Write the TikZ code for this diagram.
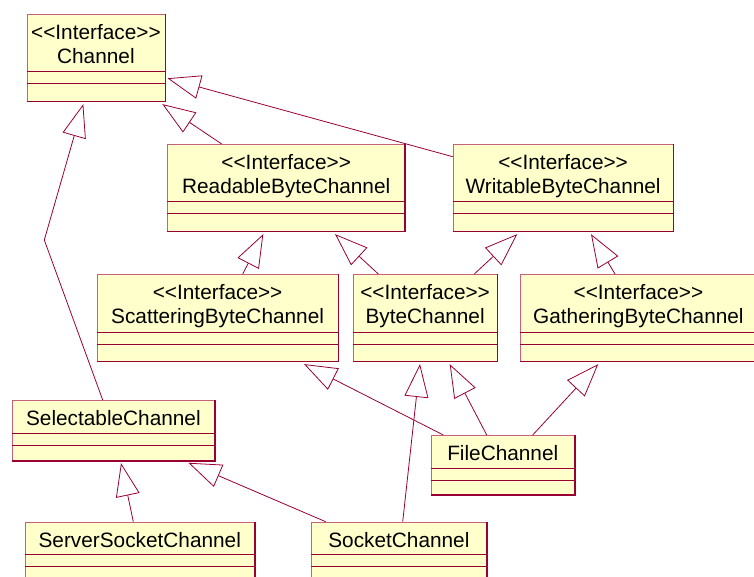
\documentclass[tikz,border=0pt]{standalone}
\usepackage{fontspec}
\newfontfamily\umlfont{Liberation Sans}
\usetikzlibrary{arrows.meta}
\definecolor{umlfill}{HTML}{FFFFCC}
\definecolor{umlline}{HTML}{990033}
\definecolor{umledge}{HTML}{C8607E}

% class box: name, x, y, width, first compartment, height
\newcommand{\umlbox}[6]{%
  \node[classbox, minimum width=#4pt, minimum height=#6pt] (#1) at (#2,#3) {};
  \draw[umlline] ([yshift=-#5pt]#1.north west) -- ([yshift=-#5pt]#1.north east);
  \draw[umlline] ([yshift=-#5pt-12pt]#1.north west) -- ([yshift=-#5pt-12pt]#1.north east);
  \draw[umlline, line width=1.6pt] (#1.north east) -- (#1.south east) -- (#1.south west);
}

\begin{document}
\begin{tikzpicture}[x=1pt, y=-1pt,
    classbox/.style={anchor=north west, fill=umlfill, draw=umledge, line width=0.8pt, inner sep=0pt},
    title/.style={anchor=base, inner sep=0pt, font=\umlfont\fontsize{20.8}{24}\selectfont},
    inh/.style={draw=umlline, line width=0.8pt, -{Triangle[open, length=33pt, width=24pt]}}]
  \useasboundingbox (0,0) rectangle (754,577);
  \clip (0,0) rectangle (754,577);

  % interfaces
  \umlbox{channel}{26.5}{14}{138}{57.7}{86.7}
  \umlbox{readable}{167.3}{144}{237}{57.7}{86.7}
  \umlbox{writable}{452.7}{144}{220}{57.7}{86.7}
  \umlbox{scattering}{96.7}{274}{241}{57.7}{86.7}
  \umlbox{bytech}{352.7}{274}{144}{57.7}{86.7}
  \umlbox{gathering}{520}{274}{236}{57.7}{86.7}
  % classes
  \umlbox{selectable}{12}{400}{202}{32.7}{60.3}
  \umlbox{filech}{430.7}{435}{143.3}{32.7}{59.3}
  \umlbox{serversocket}{24.7}{521.7}{229.3}{32.7}{60.3}
  \umlbox{socket}{311}{521.7}{175}{32.7}{60.3}

  \node[title] (channel-st) at ([yshift=-25.3pt]channel.north) {<<Interface>>};
  \node[title] (channel-nm) at ([yshift=-49.3pt]channel.north) {Channel};
  \node[title] (readable-st) at ([yshift=-25.3pt]readable.north) {<<Interface>>};
  \node[title] (readable-nm) at ([yshift=-49.3pt]readable.north) {ReadableByteChannel};
  \node[title] (writable-st) at ([yshift=-25.3pt]writable.north) {<<Interface>>};
  \node[title] (writable-nm) at ([yshift=-49.3pt]writable.north) {WritableByteChannel};
  \node[title] (scattering-st) at ([yshift=-25.3pt]scattering.north) {<<Interface>>};
  \node[title] (scattering-nm) at ([yshift=-49.3pt]scattering.north) {ScatteringByteChannel};
  \node[title] (bytech-st) at ([yshift=-25.3pt]bytech.north) {<<Interface>>};
  \node[title] (bytech-nm) at ([yshift=-49.3pt]bytech.north) {ByteChannel};
  \node[title] (gathering-st) at ([yshift=-25.3pt]gathering.north) {<<Interface>>};
  \node[title] (gathering-nm) at ([yshift=-49.3pt]gathering.north) {GatheringByteChannel};
  \node[title] (selectable-nm) at ([yshift=-25.3pt]selectable.north) {SelectableChannel};
  \node[title] (filech-nm) at ([yshift=-25.3pt]filech.north) {FileChannel};
  \node[title] (serversocket-nm) at ([yshift=-25.3pt]serversocket.north) {ServerSocketChannel};
  \node[title] (socket-nm) at ([yshift=-25.3pt]socket.north) {SocketChannel};

  % generalizations
  \coordinate (bend) at (44.3,240);
  \draw[inh] ([xshift=90.7pt]selectable.north west) -- (bend) -- ([shift={(56.8,2.6)}]channel.south west);
  \draw[inh] ([xshift=54.4pt]readable.north west) -- ([shift={(135.8,2.6)}]channel.south west);
  \draw[inh] ([shift={(0,12.7)}]writable.north west) -- ([shift={(2.2,64.3)}]channel.north east);
  \draw[inh] ([xshift=146pt]scattering.north west) -- ([shift={(96,2.6)}]readable.south west);
  \draw[inh] ([xshift=25.6pt]bytech.north west) -- ([shift={(167.7,2.6)}]readable.south west);
  \draw[inh] ([xshift=121.6pt]bytech.north west) -- ([shift={(64.6,2.6)}]writable.south west);
  \draw[inh] ([xshift=95pt]gathering.north west) -- ([shift={(138.3,2.6)}]writable.south west);
  \draw[inh] ([xshift=12.6pt]filech.north west) -- ([shift={(207.3,2.6)}]scattering.south west);
  \draw[inh] ([xshift=56pt]filech.north west) -- ([shift={(97,2.6)}]bytech.south west);
  \draw[inh] ([xshift=102pt]filech.north west) -- ([shift={(78.3,2.6)}]gathering.south west);
  \draw[inh] ([xshift=91.7pt]socket.north west) -- ([shift={(67.3,2.6)}]bytech.south west);
  \draw[inh] ([xshift=14.7pt]socket.north west) -- ([shift={(176.3,1.7)}]selectable.south west);
  \draw[inh] ([xshift=108.6pt]serversocket.north west) -- ([shift={(109,2)}]selectable.south west);
\end{tikzpicture}
\end{document}
